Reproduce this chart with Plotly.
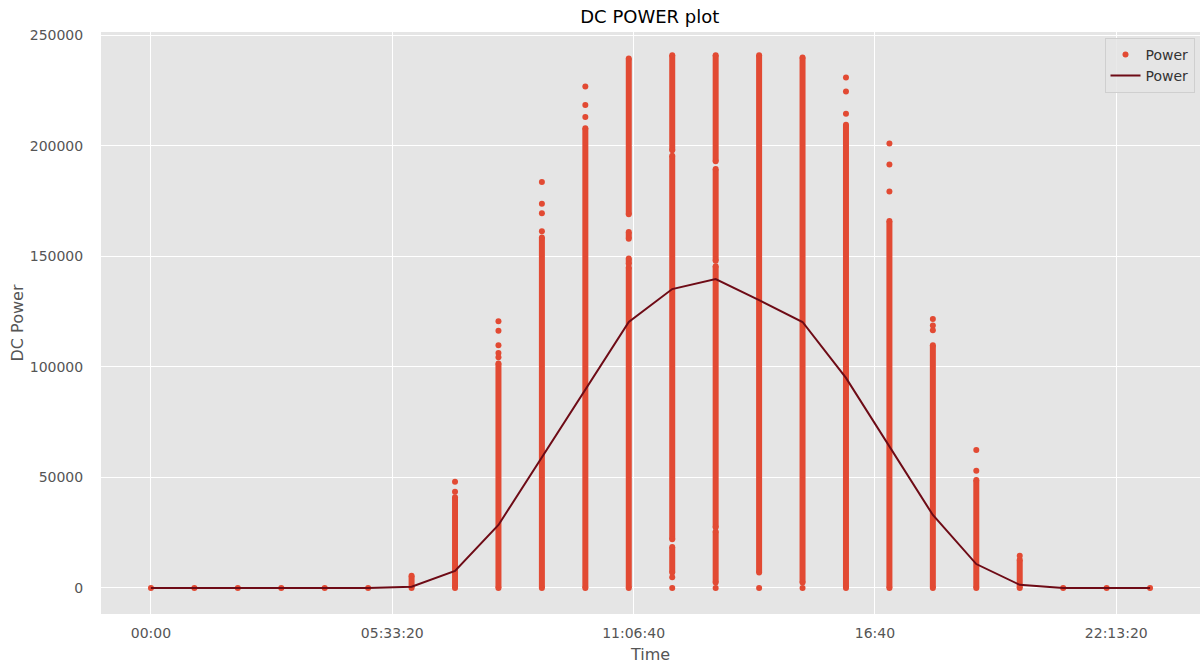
import plotly.graph_objects as go

# ---- data ----
hours = list(range(24))
mean_power = [0, 0, 0, 0, 0, 0, 500, 7700, 28500, 59200, 90000, 120300,
              135200, 139700, 130200, 120300, 95000, 63700, 33000, 10800,
              1400, 0, 0, 0]

# continuous runs of dense points: hour, low value, high value
run_hour = [6, 7, 8, 9, 10,
            11, 11, 11, 11,
            12, 12, 12,
            13, 13, 13, 13,
            14, 15, 16, 17, 18, 19, 20]
run_low = [0, 0, 0, 0, 0,
           169000, 158000, 146500, 0,
           198000, 22000, 7000,
           193000, 148000, 27500, 2500,
           7000, 2500, 0, 0, 0, 0, 0]
run_high = [5500, 41000, 101500, 158500, 208000,
            239500, 161000, 149000, 145000,
            241000, 195500, 18500,
            241000, 189500, 145500, 25500,
            241000, 240000, 209500, 166000, 109800, 48800, 12700]

# isolated points
iso_hour = [0, 1, 2, 3, 4, 5, 21, 22, 23,
            7, 7,
            8, 8, 8, 8, 8,
            9, 9, 9, 9,
            10, 10, 10,
            12, 12, 13, 14, 15,
            16, 16, 16,
            17, 17, 17,
            18, 18, 18,
            19, 19,
            20]
iso_value = [0, 0, 0, 0, 0, 0, 0, 0, 0,
             48000, 43500,
             120600, 116300, 109800, 106300, 104300,
             183600, 173800, 169500, 161400,
             226900, 218500, 213000,
             4800, 0, 0, 0, 0,
             230900, 224600, 214500,
             201100, 191600, 179300,
             121700, 118700, 116600,
             62400, 53000,
             14600]

tick_seconds = [0, 20000, 40000, 60000, 80000]
tick_text = ['00:00', '05:33:20', '11:06:40', '16:40', '22:13:20']

SECONDS_PER_HOUR = 3600
RED = '#E24A33'
MAROON = '#6E0B16'
FONT = 'DejaVu Sans'

# ---- build traces ----
seg_x, seg_y = [], []
pt_x, pt_y = [], []
for h, lo, hi in zip(run_hour, run_low, run_high):
    t = h * SECONDS_PER_HOUR
    seg_x += [t, t, None]
    seg_y += [lo, hi, None]
    pt_x += [t, t]
    pt_y += [lo, hi]
for h, v in zip(iso_hour, iso_value):
    pt_x.append(h * SECONDS_PER_HOUR)
    pt_y.append(v)

fig = go.Figure()
fig.add_trace(go.Scatter(x=seg_x, y=seg_y, mode='lines',
                         line=dict(color=RED, width=6),
                         showlegend=False, hoverinfo='skip'))
fig.add_trace(go.Scatter(x=pt_x, y=pt_y, mode='markers', name='Power',
                         marker=dict(color=RED, size=6, line=dict(width=0))))
fig.add_trace(go.Scatter(x=[h * SECONDS_PER_HOUR for h in hours], y=mean_power,
                         mode='lines', name='Power',
                         line=dict(color=MAROON, width=2)))

fig.update_layout(
    width=1200, height=664,
    margin=dict(l=101, r=0, t=32, b=50),
    paper_bgcolor='white', plot_bgcolor='#E5E5E5',
    font=dict(family=FONT, color='#555555', size=14),
    title=dict(text='DC POWER plot', x=0.5415, xanchor='center', y=0.975,
               yanchor='middle', font=dict(size=18, color='#000000', family=FONT)),
    legend=dict(x=0.995, y=0.99, xanchor='right', yanchor='top',
                bgcolor='rgba(229,229,229,0.85)', bordercolor='#CFCFCF', borderwidth=1,
                font=dict(size=14, color='#333333', family=FONT),
                tracegroupgap=0),
    showlegend=True,
)
fig.update_xaxes(range=[-4140, 86940], tickvals=tick_seconds, ticktext=tick_text,
                 showgrid=True, gridcolor='white', gridwidth=1.3, zeroline=False,
                 ticks='outside', ticklen=6, tickcolor='rgba(0,0,0,0)',
                 tickfont=dict(size=14, color='#555555'),
                 title=dict(text='Time', font=dict(size=16, color='#555555'), standoff=9),
                 showline=False)
fig.update_yaxes(range=[-11800, 251500], tickvals=[0, 50000, 100000, 150000, 200000, 250000],
                 ticktext=['0', '50000', '100000', '150000', '200000', '250000'],
                 showgrid=True, gridcolor='white', gridwidth=1.3, zeroline=False,
                 ticks='outside', ticklen=14, tickcolor='rgba(0,0,0,0)',
                 tickfont=dict(size=14, color='#555555'),
                 title=dict(text='DC Power', font=dict(size=16, color='#555555'), standoff=2),
                 showline=False)

fig.write_html('out.html')
